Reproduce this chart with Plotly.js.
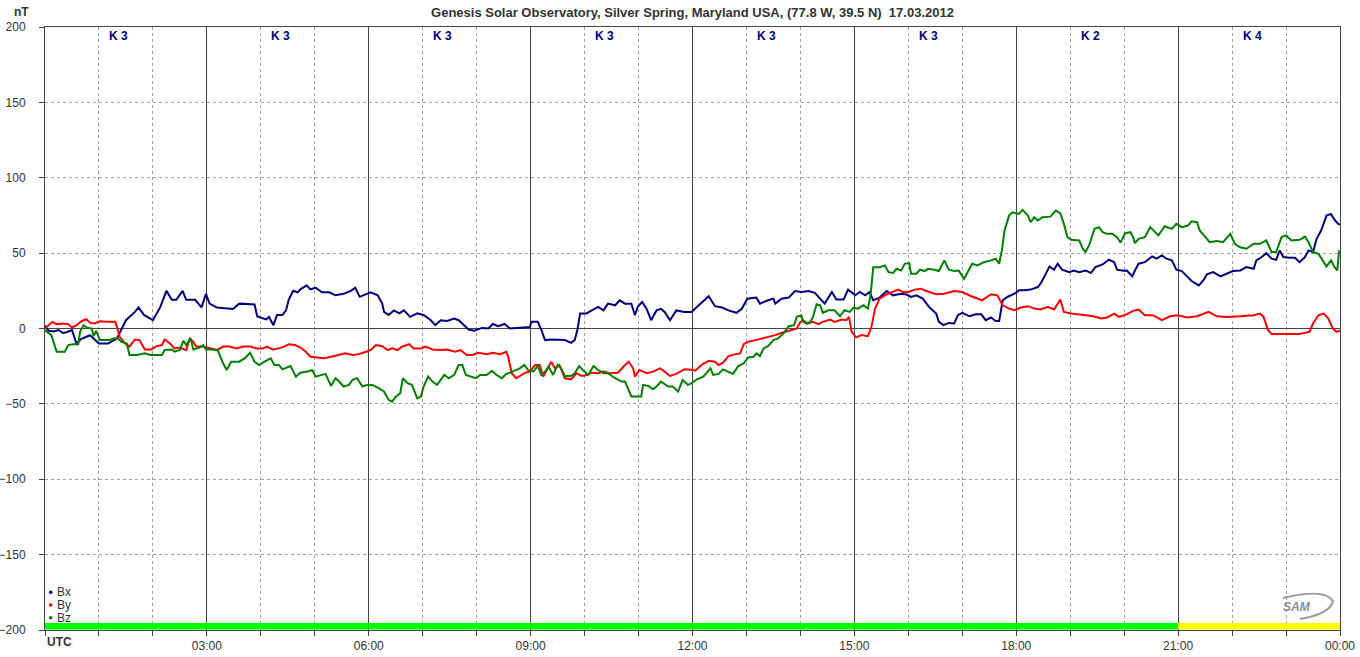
<!DOCTYPE html>
<html>
<head>
<meta charset="utf-8">
<script src="https://cdn.plot.ly/plotly-3.0.1.min.js"></script>
<style>html,body{margin:0;padding:0;background:#fff;}#chart{width:1360px;height:657px;}</style>
</head>
<body>
<div id="chart"></div>
<script>
// times in minutes after 00:00 UTC, values in nT
var bxT = [0,4,10,15,20,24,30,35,40,50,60,70,80,90,100,104,110,120,128,135,141,146,153,157,167,174,179,183,191,209,216,233,236,242,246,249,254,258,264,268,271,276,281,284,291,295,301,308,316,323,332,340,345,350,357,362,370,375,377,382,388,394,399,406,414,421,429,434,440,447,455,460,466,471,477,486,493,498,504,511,517,528,539,541,548,552,556,563,578,585,589,592,595,602,608,615,621,626,634,639,645,652,656,659,664,669,674,680,685,689,695,702,711,719,723,733,738,745,753,760,769,775,781,791,795,804,810,812,819,827,834,841,849,856,863,867,875,880,888,893,901,906,912,917,921,928,936,943,952,958,963,969,976,983,991,994,999,1005,1011,1015,1020,1028,1035,1041,1046,1052,1057,1061,1065,1070,1078,1083,1089,1096,1104,1107,1111,1117,1122,1126,1131,1139,1144,1150,1157,1163,1168,1176,1183,1189,1192,1199,1203,1209,1212,1216,1223,1231,1236,1242,1247,1253,1258,1264,1270,1275,1283,1288,1292,1299,1307,1314,1321,1329,1336,1344,1347,1353,1358,1364,1369,1373,1377,1384,1390,1395,1401,1405,1410,1414,1419,1425,1430,1434,1438,1440];
var bxV = [2,-1.5,-2,-1,-3,-2.5,-1,-10,-7,-4.5,-10,-10,-6.6,5.5,11,14,9,5.5,14,25,19,19,25,19,19,14,23,16.5,14,13,16.5,16,8,6.6,6,7.7,2.2,9,9,12,19,25,24,26,28.6,26,27,24,24,22,23,25,27,21,23,24,22,16.5,11,9,12,10,12,7.7,10,9,5.5,2.2,5.5,5,6.6,5.5,2.2,-0.7,-1.5,0.4,0,3,1.5,3,0,0.7,1,4.4,4.4,-1,-7.7,-7.3,-7.7,-9.5,-7.7,-1,10,10,12,14.3,12,16.5,15.4,18.7,16.5,16.5,8.8,14.3,17.6,13,5.5,12,13,11,5.5,12,11,11,13.2,18.7,21.4,14.8,13.9,12,10.4,13.2,19.8,20.5,16.5,18.7,19.8,16.5,19.8,20.5,24.9,24.2,24.9,23.6,18.7,16.5,24.2,19.2,19.2,25.8,22,24.2,22,24.2,18.7,20.5,24.9,22,23.1,22.5,20.9,22,19.8,14.3,9.9,4.4,2.2,3.7,3.3,8.8,10.4,8.1,9.5,9.5,5.5,7.3,5,5,18.7,20.9,23.1,25.3,25.3,25.8,27.5,29.7,34.1,41.2,39,43,39,37.4,38.5,37.4,38.5,36.8,40.7,42.5,45.6,44,39,38.3,38.5,34.6,38.5,43,44,47.8,46.3,48.5,46.3,45.2,39,38.1,34.6,31.5,28.6,31.9,35.9,37.4,34.6,36.3,38.1,38.5,40.7,39.6,45.2,47.4,50,46.3,45.6,51.8,47.4,46.9,46.9,44,47.4,51.8,50.7,59.5,65,74.9,76,72,69.4,69];

var byT = [0,4,8,13,20,26,30,35,41,46,50,55,61,68,78,80,83,89,94,100,105,111,118,124,130,133,139,144,150,157,161,165,168,176,183,191,198,205,213,220,228,235,242,247,253,260,266,271,278,284,290,295,303,310,318,325,334,342,349,357,362,368,375,381,386,392,397,405,410,418,423,431,440,447,456,462,469,475,482,491,498,506,513,515,519,524,530,534,539,545,550,554,560,563,567,572,578,585,591,597,602,608,615,621,628,637,645,649,654,656,661,669,676,684,689,695,702,711,719,723,730,738,745,749,754,760,768,773,777,782,790,797,804,812,817,823,830,836,840,843,848,854,860,865,873,878,886,891,894,897,902,908,915,919,923,928,936,943,949,954,960,967,974,980,991,1000,1011,1020,1030,1042,1052,1059,1065,1072,1078,1085,1093,1100,1107,1115,1122,1129,1133,1141,1148,1157,1166,1174,1181,1189,1194,1200,1203,1210,1216,1223,1232,1242,1251,1260,1270,1281,1294,1303,1314,1329,1344,1351,1355,1360,1364,1373,1384,1395,1401,1406,1410,1416,1422,1427,1432,1436,1440];
var byV = [0,2.2,4.4,2.9,3.3,2.9,0.7,2.2,5,6.2,3.7,3.3,4.8,4.4,4.4,1.1,-5.5,-9.9,-12,-7.3,-7.7,-13.9,-13.9,-11.7,-11,-7.3,-9.9,-13.2,-12.6,-14.3,-6.6,-8.8,-12,-12,-13.2,-14.3,-12,-12,-13.2,-12,-12,-13.2,-13.2,-12,-13.9,-13.2,-12,-10.4,-11,-12.6,-15.4,-18.7,-19.2,-19.8,-18.7,-17.6,-16.5,-17.6,-17,-15.4,-14.3,-11,-11.7,-14.3,-13.2,-14.3,-12,-10.4,-13.2,-13.2,-12,-13.9,-14.3,-13.9,-15.4,-14.3,-17.6,-17.6,-16.1,-17,-16.1,-17,-15.4,-18.7,-29.7,-33,-30.8,-29.3,-28.6,-24.2,-24.2,-31.9,-25.3,-22,-26.4,-24.2,-33,-33.7,-29.7,-31.5,-30.8,-29.3,-29.7,-28.6,-29.7,-29.3,-24.2,-22,-26.4,-31.9,-27.5,-29.7,-28.6,-26.4,-28.6,-31.5,-30.1,-27,-27.3,-28,-24.2,-21.4,-22,-24.2,-22.7,-18.3,-17,-16.5,-10.4,-8.8,-7.7,-6.6,-5.9,-4.4,-3.3,-2.2,-1.1,0,4.4,5.5,3.3,4.4,2.9,4.4,5.9,4.4,5.9,5.5,7.7,-2.2,-5.9,-4.4,-5.1,1.1,13.2,19.8,22.7,24.2,25.8,24.2,24.2,25.8,26.4,24.9,22.7,23.1,24.9,24.2,21.4,18.7,22.7,22,15.4,13.2,12.1,13.9,14.8,13.2,12.6,14.3,12.6,19.2,11,9.9,9.5,8.8,8.1,6.6,7.3,9.9,7.7,8.8,9.5,11.7,12.6,8.8,8.8,5.5,8.1,8.8,7.3,8.1,11,8.1,7.7,8.1,8.8,9.9,7.7,-1.1,-3.7,-3.7,-3.7,-3.7,-2.9,-2.2,3.3,8.8,9.9,6.6,0,-2.2,-1.5];

var bzT = [0,4,7,10,13,17,22,26,31,37,39,43,46,52,54,57,61,67,72,76,81,85,91,94,102,111,117,130,133,141,144,150,154,157,162,165,172,176,179,185,192,198,202,207,216,222,228,233,238,244,251,255,260,264,270,273,279,284,292,297,301,307,312,318,323,327,332,338,342,347,353,358,364,371,377,382,386,390,395,398,403,408,414,418,421,426,431,436,444,449,455,460,464,468,473,479,484,491,497,502,508,513,517,523,528,533,537,543,548,552,556,560,565,570,574,578,585,589,594,598,604,610,615,621,626,634,641,645,649,652,658,663,665,671,676,680,685,693,698,704,709,715,719,725,732,740,743,749,754,760,765,771,777,782,788,791,795,799,804,810,815,821,827,833,836,841,843,847,851,854,858,862,865,871,878,884,889,895,899,904,910,915,918,921,928,934,938,943,947,952,956,961,963,969,973,978,982,989,994,1000,1005,1011,1016,1022,1026,1031,1037,1044,1052,1057,1061,1064,1067,1072,1076,1083,1087,1093,1096,1100,1104,1109,1118,1124,1129,1133,1137,1141,1150,1154,1157,1161,1167,1172,1176,1181,1187,1192,1196,1201,1207,1210,1212,1216,1223,1229,1232,1238,1245,1253,1258,1264,1271,1275,1281,1284,1290,1295,1303,1310,1318,1323,1329,1336,1344,1351,1358,1364,1369,1375,1380,1386,1395,1401,1405,1410,1416,1421,1425,1430,1434,1437,1439];
var bzV = [-1.1,-3.3,-4.4,-9.9,-15.4,-15.4,-15.4,-11,-10.4,-10.4,-2.2,2.2,0.7,0,-5,-1.5,-7.7,-7.7,-7.7,-6.6,-6.6,-8.8,-9.9,-17.6,-17.6,-16.5,-17.6,-17.6,-14.3,-13.9,-15.4,-14.3,-8.1,-11,-6.6,-13.9,-12.6,-11,-13.9,-13.9,-14.3,-23.1,-27.5,-22,-22,-19.8,-16.1,-22,-24.2,-22,-19.8,-24.2,-24.2,-27.1,-25.3,-24.9,-31.9,-29.3,-28.6,-27.5,-31.9,-30.8,-30.1,-38.1,-33,-35.2,-38.5,-37.4,-34.1,-33,-38.5,-37.4,-37.4,-39.6,-41.8,-47.3,-48.5,-45.2,-42.9,-33,-36.3,-37.4,-46.3,-45.2,-38.5,-31.9,-35.2,-37.4,-30.8,-33,-30.8,-24.2,-24.2,-30.8,-31.9,-33,-30.8,-30.8,-28,-30.8,-33,-30.1,-29.3,-27.5,-26.4,-24.2,-27.5,-28.6,-24.9,-30.8,-28.6,-25.3,-30.8,-24.2,-26.4,-31.5,-31.5,-29.7,-24.9,-27.5,-30.8,-24.9,-27.5,-29.7,-29.7,-33,-35.2,-35.2,-40.7,-45.1,-45.1,-45.1,-37.4,-38.1,-40.3,-38.5,-35.2,-38.5,-38.5,-41.8,-34.1,-37.4,-36.3,-33.7,-31.9,-26.4,-30.8,-30.1,-27.1,-28.6,-30.1,-24.9,-23.1,-19.2,-18.7,-16.5,-18.3,-13.2,-11.7,-7.7,-6.6,-3.3,1.5,2.2,7.7,8.8,4.4,3.3,4.4,7.7,16.1,15.4,10.4,12.1,12.1,8.1,12.1,11,13.9,13.2,15.4,13.2,22,40.7,40.7,41.8,37.4,36.8,39.6,38.5,42.9,43.4,36.3,36.3,39,38.1,39.6,39,38.1,45.2,39,38.1,38.5,33,37.4,43,41.8,44,45.2,46.3,43,51.8,65,74.9,77.1,76,78.7,74.9,70.5,73.8,71.6,73.8,74.2,78.2,76.4,69.4,60.6,58.8,58.4,52.9,50.7,55.1,66.1,67.2,63.9,62.8,62.8,60.6,57,63.2,63.9,60.6,56.6,59.5,60.6,67.2,65.4,61.7,67.8,66.1,69.4,67.2,68.3,71.1,70.5,65,61,57.3,58,57.3,62.8,56.2,53.9,52.9,56.2,56.2,58.4,50.7,50.7,60.6,61.7,58.4,58.8,61,57.3,50.7,49.6,45.2,41.2,45.2,40.7,38.5,51.8];

var kLabels = ['K 3','K 3','K 3','K 3','K 3','K 3','K 2','K 4'];
var kColors = ['#00ff00','#00ff00','#00ff00','#00ff00','#00ff00','#00ff00','#00ff00','#ffff00'];
var hourTicks = [0,3,6,9,12,15,18,21,24];
var hourLabels = ['','03:00','06:00','09:00','12:00','15:00','18:00','21:00','00:00'];
var seriesNames = ['Bx','By','Bz'];
var seriesColors = ['#000080','#ff0000','#008000'];

function toH(a){ return a.map(function(m){ return m/60; }); }

var FONT = 'Liberation Sans, Arial, sans-serif';
var data = [
  {x: toH(bxT), y: bxV, name: 'Bx'},
  {x: toH(byT), y: byV, name: 'By'},
  {x: toH(bzT), y: bzV, name: 'Bz'}
].map(function(t, i){
  return {x: t.x, y: t.y, name: t.name, type: 'scatter', mode: 'lines',
    line: {color: seriesColors[i], width: 2}, showlegend: false, hoverinfo: 'skip'};
});

var PW = 1295, PH = 603;
var shapes = [];
var annotations = [];
kLabels.forEach(function(k, i){
  shapes.push({type: 'rect', xref: 'x', yref: 'y', x0: i*3, x1: i*3+3, y0: -199.6, y1: -195.3,
    fillcolor: kColors[i], line: {width: 0}, layer: 'above'});
  annotations.push({x: i*3+1.37, y: (630-36)/PH, xref: 'x', yref: 'paper', text: '<b>' + k + '</b>',
    showarrow: false, font: {family: FONT, size: 12, color: '#000080'}, xanchor: 'center', yanchor: 'middle'});
});
// legend (bottom-left, inside)
seriesNames.forEach(function(n, i){
  var yp = 592.3 + i*12.7;
  shapes.push({type: 'circle', xref: 'paper', yref: 'paper',
    x0: (50.7-45-1.8)/PW, x1: (50.7-45+1.8)/PW,
    y0: (630-yp-1.8)/PH, y1: (630-yp+1.8)/PH,
    fillcolor: seriesColors[i], line: {width: 0}});
  annotations.push({x: (55-45)/PW, y: (630-yp)/PH, xref: 'paper', yref: 'paper', text: n,
    showarrow: false, xanchor: 'left', yanchor: 'middle', font: {family: FONT, size: 12, color: '#333'}});
});
annotations.push({x: 0, y: (630-642)/PH, xref: 'paper', yref: 'paper', text: '<b>UTC</b>', showarrow: false,
  xanchor: 'left', yanchor: 'middle', font: {family: FONT, size: 12, color: '#333'}});
annotations.push({x: (21-45)/PW, y: (630-12)/PH, xref: 'paper', yref: 'paper', text: '<b>nT</b>', showarrow: false,
  xanchor: 'center', yanchor: 'middle', font: {family: FONT, size: 12, color: '#333'}});
// SAM logo mark
annotations.push({x: (1297-45)/PW, y: (630-607)/PH, xref: 'paper', yref: 'paper', text: '<b><i>SAM</i></b>', showarrow: false,
  xanchor: 'center', yanchor: 'middle', font: {family: FONT, size: 12, color: '#8a8f9a'}});
shapes.push({type: 'path', xref: 'paper', yref: 'paper',
  path: 'M ' + ((1283-45)/PW) + ' ' + ((630-598)/PH) + ' Q ' + ((1325-45)/PW) + ' ' + ((630-588)/PH) + ' ' + ((1333-45)/PW) + ' ' + ((630-601)/PH) +
        ' Q ' + ((1330-45)/PW) + ' ' + ((630-614)/PH) + ' ' + ((1300-45)/PW) + ' ' + ((630-619)/PH),
  line: {color: '#9a9a9a', width: 2}});

var layout = {
  width: 1360, height: 657,
  margin: {l: 45, r: 20, t: 27, b: 27, pad: 0},
  paper_bgcolor: '#ffffff', plot_bgcolor: '#ffffff',
  font: {family: FONT, size: 12, color: '#333'},
  title: {text: '<b>Genesis Solar Observatory, Silver Spring, Maryland USA, (77.8 W, 39.5 N)  17.03.2012</b>',
    x: 0.5, xref: 'paper', y: 1 - 12/657, yref: 'container', yanchor: 'middle', xanchor: 'center',
    font: {family: FONT, size: 13, color: '#333'}},
  showlegend: false,
  xaxis: {range: [0, 24], tickmode: 'array', tickvals: hourTicks, ticktext: hourLabels,
    showgrid: true, gridcolor: '#444', gridwidth: 1, zeroline: false,
    showline: true, mirror: true, linecolor: '#444', linewidth: 1,
    ticks: 'outside', ticklen: 5, tickcolor: '#444', tickfont: {family: FONT, size: 12, color: '#333'},
    minor: {tickmode: 'linear', tick0: 0, dtick: 1, showgrid: true, gridcolor: '#a0a0a0', griddash: '3px,3px',
      ticks: 'outside', ticklen: 5, tickcolor: '#444'},
    fixedrange: true},
  yaxis: {range: [-200, 200], tickmode: 'linear', tick0: -200, dtick: 50,
    showgrid: true, gridcolor: '#a0a0a0', griddash: '3px,3px', gridwidth: 1,
    zeroline: true, zerolinecolor: '#444', zerolinewidth: 1,
    showline: true, mirror: true, linecolor: '#444', linewidth: 1,
    ticks: 'outside', ticklen: 5, tickcolor: '#444', ticklabelstandoff: 11,
    tickfont: {family: FONT, size: 12, color: '#333'}, fixedrange: true},
  shapes: shapes,
  annotations: annotations
};

Plotly.newPlot('chart', data, layout, {staticPlot: true, displayModeBar: false});
</script>
</body>
</html>
